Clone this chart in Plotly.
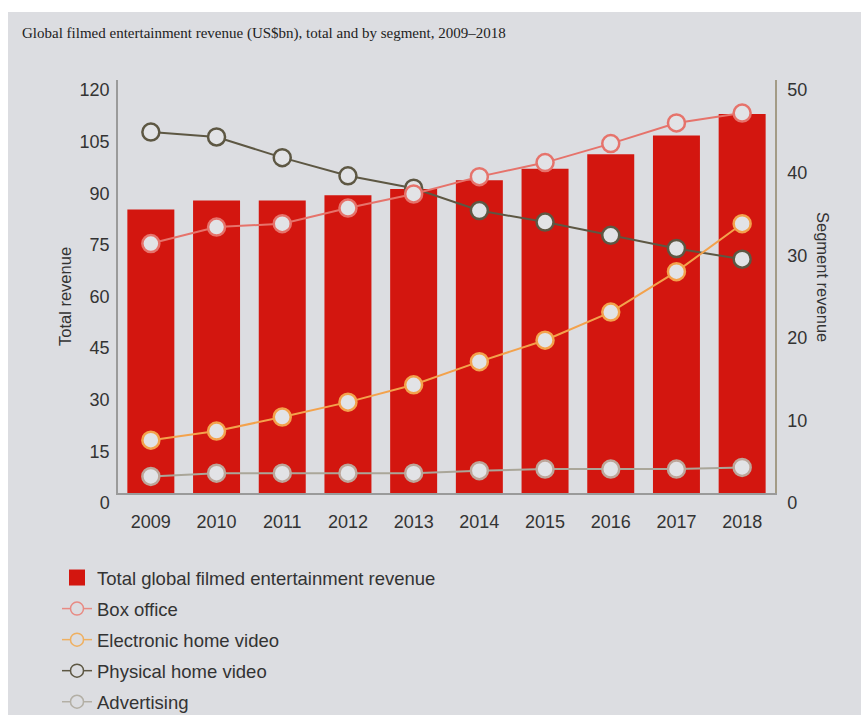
import plotly.graph_objects as go

years = ["2009", "2010", "2011", "2012", "2013", "2014", "2015", "2016", "2017", "2018"]
total_revenue = [82.4, 85.0, 85.0, 86.5, 88.3, 90.9, 94.2, 98.4, 103.9, 110.1]
box_office = [30.2, 32.2, 32.6, 34.5, 36.2, 38.3, 40.0, 42.3, 44.8, 46.0]
electronic_home_video = [6.4, 7.5, 9.2, 11.0, 13.1, 15.9, 18.5, 21.9, 26.8, 32.6]
physical_home_video = [43.7, 43.1, 40.6, 38.4, 36.9, 34.2, 32.8, 31.2, 29.6, 28.3]
advertising = [2.0, 2.4, 2.4, 2.4, 2.4, 2.7, 2.9, 2.9, 2.9, 3.1]

left_ticks = [0, 15, 30, 45, 60, 75, 90, 105, 120]
right_ticks = [0, 10, 20, 30, 40, 50]

BG = "#dcdde1"
MARKER_FILL = "#e2e3e6"
RED = "#d3160f"
FONT = "Liberation Sans, Arial, sans-serif"

series = [
    # name, values, line colour, marker border colour
    ("Physical home video", physical_home_video, "#5d5743", "#5d5743"),
    ("Advertising", advertising, "#aaa699", "#bda69a"),
    ("Electronic home video", electronic_home_video, "#f3a24c", "#f3a24c"),
    ("Box office", box_office, "#e6736b", "#e6736b"),
]

fig = go.Figure()

fig.add_trace(go.Bar(
    x=years, y=total_revenue, marker=dict(color=RED, line=dict(width=0)),
    name="Total global filmed entertainment revenue", showlegend=False, yaxis="y",
))

for name, vals, lc, mc in series:
    fig.add_trace(go.Scatter(
        x=years, y=vals, mode="lines+markers", name=name, yaxis="y2", showlegend=False,
        line=dict(color=lc, width=2),
        marker=dict(symbol="circle", size=17, color=MARKER_FILL, line=dict(color=mc, width=2.5)),
    ))

# legend-only entries
fig.add_trace(go.Scatter(
    x=[None], y=[None], mode="markers", name="Total global filmed entertainment revenue",
    legendgroup="g0", marker=dict(symbol="square", size=20, color=RED), yaxis="y",
))
legend_cols = {
    "Box office": "#e88a83",
    "Electronic home video": "#efb061",
    "Physical home video": "#5d5743",
    "Advertising": "#b3afa5",
}
for i, name in enumerate(["Box office", "Electronic home video", "Physical home video", "Advertising"]):
    c = legend_cols[name]
    fig.add_trace(go.Scatter(
        x=[None], y=[None], mode="lines+markers", name=name, yaxis="y2",
        legendgroup=f"g{i + 1}",
        line=dict(color=c, width=1.5),
        marker=dict(symbol="circle", size=13, color=BG, line=dict(color=c, width=1.5)),
    ))

W, H = 861, 715
L, R, T, B = 118, 775, 80, 493
pw, ph = R - L, B - T

def px_x(x):
    return (x - L) / pw

def px_y(y):
    return (B - y) / ph

fig.update_layout(
    width=W, height=H,
    margin=dict(l=L, r=W - R, t=T, b=H - B, pad=0, autoexpand=False),
    paper_bgcolor="white",
    plot_bgcolor=BG,
    bargap=0.285,
    font=dict(family=FONT, color="#333333", size=18),
    title=dict(
        text="Global filmed entertainment revenue (US$bn), total and by segment, 2009–2018",
        x=22 / W, xanchor="left", xref="container",
        y=1 - 33 / H, yanchor="middle", yref="container",
        font=dict(family="Liberation Serif, Times New Roman, serif", size=15, color="#222222"),
    ),
    xaxis=dict(
        type="category", range=[-0.5, 9.5], autorange=False,
        showgrid=False, zeroline=False,
        showline=True, linecolor="#9a9a9a", linewidth=1.5,
        ticks="", ticklabelstandoff=12, tickfont=dict(size=18, color="#333333"),
    ),
    yaxis=dict(
        range=[0, 120], tickvals=left_ticks, showgrid=False, zeroline=False,
        showline=True, linecolor="#9a9a9a", linewidth=1.5,
        ticks="", ticklabelshift=10, ticklabelstandoff=3,
        tickfont=dict(size=18, color="#333333"),
    ),
    yaxis2=dict(
        range=[0, 50], tickvals=right_ticks, overlaying="y", side="right",
        showgrid=False, zeroline=False,
        showline=True, linecolor="#a39b86", linewidth=1.5,
        ticks="", ticklabelshift=10, ticklabelstandoff=7,
        tickfont=dict(size=18, color="#333333"),
    ),
    legend=dict(
        x=px_x(57), xanchor="left", y=px_y(559), yanchor="top",
        orientation="v", traceorder="grouped", tracegroupgap=4,
        bgcolor="rgba(0,0,0,0)",
        font=dict(family=FONT, size=18.5, color="#333333"),
        itemclick=False, itemdoubleclick=False,
    ),
    shapes=[dict(
        type="rect", xref="paper", yref="paper", layer="below",
        x0=px_x(8), x1=px_x(W + 2), y0=px_y(H + 2), y1=px_y(12),
        fillcolor=BG, line=dict(width=0),
    )],
    annotations=[
        dict(text="Total revenue", xref="paper", yref="paper", x=px_x(65), y=px_y(297),
             xanchor="center", yanchor="middle", textangle=-90, showarrow=False,
             font=dict(family=FONT, size=16.5, color="#333333")),
        dict(text="Segment revenue", xref="paper", yref="paper", x=px_x(823), y=px_y(277),
             xanchor="center", yanchor="middle", textangle=90, showarrow=False,
             font=dict(family=FONT, size=16.5, color="#333333")),
    ],
)

fig.write_html("out.html")
